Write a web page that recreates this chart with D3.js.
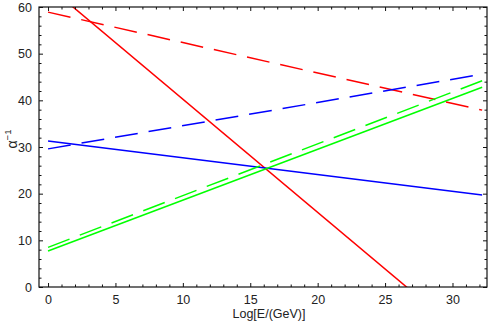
<!DOCTYPE html>
<html>
<head>
<meta charset="utf-8">
<script src="https://cdn.jsdelivr.net/npm/d3@7"></script>
<style>
  body { margin: 0; background: #fff; }
  text { font-family: "Liberation Sans", Arial, sans-serif; fill: #222; }
</style>
</head>
<body>
<main></main>
<script>
// x values (Log[E/GeV]) at the ends of each line
const tRange = [0, 32.2];

// inverse couplings at t = 0 and t = 32.2
const solidRed   = [64.5, -13.6];
const solidBlue  = [31.3, 19.7];
const solidGreen = [7.7, 42.8];
const dashRed    = [58.9, 37.9];
const dashBlue   = [29.6, 45.6];
const dashGreen  = [8.5, 44.2];

const xTicks = [0, 5, 10, 15, 20, 25, 30];
const yTicks = [0, 10, 20, 30, 40, 50, 60];

const W = 491, H = 324;
const margin = { left: 39, right: 4, top: 7, bottom: 37 };

const svg = d3.select("main")
              .append("svg")
              .attr("width", W)
              .attr("height", H);

const x = d3.scaleLinear().domain([-0.67, 32.56]).range([margin.left, W - margin.right]);
const y = d3.scaleLinear().domain([0, 60]).range([H - margin.bottom, margin.top]);

const pBottom = H - margin.bottom, pTop = margin.top;
const pLeft = margin.left, pRight = W - margin.right;

// clip region for the lines
svg.append("clipPath").attr("id", "clip")
   .append("rect")
   .attr("x", pLeft).attr("y", pTop)
   .attr("width", pRight - pLeft)
   .attr("height", pBottom - pTop);

const series = [
  { v: solidRed,   color: "#ff0000", dash: null },
  { v: solidBlue,  color: "#0000ff", dash: null },
  { v: solidGreen, color: "#00ff00", dash: null },
  { v: dashRed,    color: "#ff0000", dash: "23,11" },
  { v: dashBlue,   color: "#0000ff", dash: "23,11" },
  { v: dashGreen,  color: "#00ff00", dash: "23,11" }
];

const line = d3.line().x(d => x(d[0])).y(d => y(d[1]));

svg.append("g").attr("clip-path", "url(#clip)")
   .selectAll("path")
   .data(series)
   .enter().append("path")
   .attr("d", d => line([[tRange[0], d.v[0]], [tRange[1], d.v[1]]]))
   .attr("fill", "none")
   .attr("stroke", d => d.color)
   .attr("stroke-width", 1.5)
   .attr("stroke-dasharray", d => d.dash);

// frame axes, ticks pointing inward
const xMinor = d3.range(0, 33, 1).filter(v => v % 5 !== 0);
const yMinor = d3.range(0, 61, 2).filter(v => v % 10 !== 0);

function addAxis(axis, tr, labels) {
  const g = svg.append("g").attr("transform", tr).call(axis);
  g.select(".domain").remove();
  g.selectAll("line").attr("stroke", "#111");
  g.selectAll("text").attr("font-size", 12.5).style("fill", "#222");
  if (!labels) g.selectAll("text").remove();
  return g;
}

// bottom
addAxis(d3.axisBottom(x).tickValues(xTicks).tickSize(-4).tickPadding(8), `translate(0,${pBottom})`, true);
addAxis(d3.axisBottom(x).tickValues(xMinor).tickSize(-2.5).tickFormat(""), `translate(0,${pBottom})`, false);
// top
addAxis(d3.axisTop(x).tickValues(xTicks).tickSize(-4), `translate(0,${pTop})`, false);
addAxis(d3.axisTop(x).tickValues(xMinor).tickSize(-2.5), `translate(0,${pTop})`, false);
// left
addAxis(d3.axisLeft(y).tickValues(yTicks).tickSize(-4).tickPadding(7), `translate(${pLeft},0)`, true);
addAxis(d3.axisLeft(y).tickValues(yMinor).tickSize(-2.5).tickFormat(""), `translate(${pLeft},0)`, false);
// right
addAxis(d3.axisRight(y).tickValues(yTicks).tickSize(-4), `translate(${pRight},0)`, false);
addAxis(d3.axisRight(y).tickValues(yMinor).tickSize(-2.5), `translate(${pRight},0)`, false);

svg.append("rect")
   .attr("x", pLeft).attr("y", pTop)
   .attr("width", pRight - pLeft).attr("height", pBottom - pTop)
   .attr("fill", "none").attr("stroke", "#111").attr("stroke-width", 1.2);

// axis labels
svg.append("text")
   .attr("x", (pLeft + pRight) / 2 + 6).attr("y", 318)
   .attr("text-anchor", "middle")
   .attr("font-size", 12.5)
   .text("Log[E/(GeV)]");

const yl = svg.append("text")
   .attr("transform", `translate(17,139) rotate(-90)`)
   .attr("text-anchor", "middle")
   .attr("font-size", 14);
yl.append("tspan").text("α");
yl.append("tspan").attr("font-size", 9.5).attr("dy", -6).text("−1");
</script>
</body>
</html>
